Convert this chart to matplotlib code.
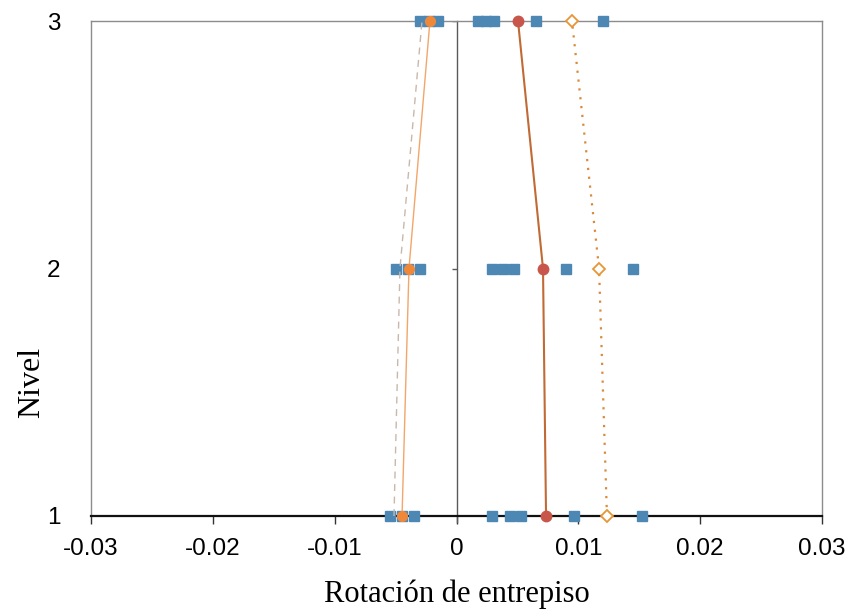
import matplotlib
matplotlib.use("Agg")
import matplotlib.pyplot as plt

# Story levels
levels = [1, 2, 3]

# Interstory rotation of each record, per level (negative and positive excursions)
rot_neg_n1 = [-0.00546, -0.00447, -0.00349]
rot_pos_n1 = [0.00295, 0.00439, 0.00529, 0.00964, 0.01523]
rot_neg_n2 = [-0.00497, -0.00398, -0.00300]
rot_pos_n2 = [0.00291, 0.00382, 0.00472, 0.00899, 0.01449]
rot_neg_n3 = [-0.00300, -0.00226, -0.00152]
rot_pos_n3 = [0.00176, 0.00242, 0.00308, 0.00653, 0.01202]

# Summary profiles per level (1, 2, 3)
mean_pos = [0.00735, 0.00710, 0.00505]
mean_pos_plus_sd = [0.01235, 0.01170, 0.00948]
mean_neg = [-0.00447, -0.00390, -0.00218]
mean_neg_minus_sd = [-0.00513, -0.00464, -0.00283]

x_ticks = [-0.03, -0.02, -0.01, 0, 0.01, 0.02, 0.03]
x_tick_labels = ["-0.03", "-0.02", "-0.01", "0", "0.01", "0.02", "0.03"]

BLUE = "#4d88b4"
fig = plt.figure(figsize=(8.49, 6.16), dpi=100)
ax = fig.add_axes([91 / 849, 1 - 516 / 616, 731 / 849, 495 / 616])

# individual records
records = [(1, rot_neg_n1 + rot_pos_n1), (2, rot_neg_n2 + rot_pos_n2), (3, rot_neg_n3 + rot_pos_n3)]
for lvl, vals in records:
    ax.plot(vals, [lvl] * len(vals), linestyle="none", marker="s", markersize=7.8,
            markerfacecolor=BLUE, markeredgecolor=BLUE, zorder=3, clip_on=False)

# zero reference line with its level ticks
ax.plot([0, 0], [0.975, 3], color="#5a5a5a", lw=1.0, clip_on=False, zorder=2)
ax.hlines(levels, -0.00035, 0, color="#5a5a5a", lw=1.0, zorder=2)

# negative side profiles
ax.plot(mean_neg_minus_sd, levels, color="#c9b8aa", lw=1.0, ls=(0, (5, 4)), zorder=4,
        clip_on=False)
ax.plot(mean_neg, levels, color="#f2a66a", lw=1.0, marker="o", markersize=7,
        markerfacecolor="#f0883a", markeredgecolor="#f0883a", zorder=5, clip_on=False)

# positive side profiles
ax.plot(mean_pos, levels, color="#c06a35", lw=1.5, marker="o", markersize=7.5,
        markerfacecolor="#c8564a", markeredgecolor="#c8564a", zorder=5, clip_on=False)
ax.plot(mean_pos_plus_sd, levels, color="#d98a3a", lw=1.6, ls=(0, (1, 3)),
        marker="D", markersize=6, markerfacecolor="white", markeredgecolor="#e89535",
        markeredgewidth=1.3, zorder=5, clip_on=False)

ax.set_xlim(-0.03, 0.03)
ax.set_ylim(1, 3)
ax.set_xticks(x_ticks)
ax.set_xticklabels(x_tick_labels, fontsize=17.5, family="Liberation Sans")
ax.set_yticks(levels)
ax.set_yticklabels([str(v) for v in levels], fontsize=17.5, family="Liberation Sans")
ax.tick_params(axis="x", direction="out", length=6, width=1, pad=10, color="#333333")
ax.tick_params(axis="y", length=0, pad=22)

for side in ("left", "right", "top"):
    ax.spines[side].set_color("#8c8c8c")
    ax.spines[side].set_linewidth(1.0)
ax.spines["bottom"].set_color("#111111")
ax.spines["bottom"].set_linewidth(1.6)
ax.spines["bottom"].set_zorder(2.5)

ax.set_xlabel("Rotación de entrepiso", fontsize=22, family="Liberation Serif")
ax.set_ylabel("Nivel", fontsize=23, family="Liberation Serif")
ax.xaxis.set_label_coords(0.5, -0.128)
ax.yaxis.set_label_coords(-0.062, 0.269)

fig.savefig("out.png", dpi=100)
